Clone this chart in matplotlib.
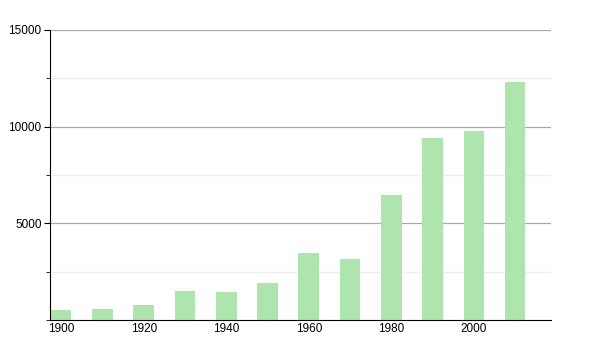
import matplotlib.pyplot as plt
from matplotlib.ticker import MultipleLocator

plt.rcParams['font.family'] = ['Liberation Sans', 'DejaVu Sans']

years = [1900, 1910, 1920, 1930, 1940, 1950, 1960, 1970, 1980, 1990, 2000, 2010]
values = [520, 570, 780, 1500, 1470, 1900, 3450, 3160, 6470, 9430, 9780, 12330]
x_ticks = [1900, 1920, 1940, 1960, 1980, 2000]
y_ticks = [5000, 10000, 15000]

fig = plt.figure(figsize=(6, 3.5), dpi=100)
ax = fig.add_axes([50/600, 30/350, 501/600, 290/350])

ax.bar(years, values, width=5, color='#aee5ae', zorder=2)

ax.set_xlim(1897.3, 2018.7)
ax.set_ylim(0, 15000)
ax.set_xticks(x_ticks)
ax.set_yticks(y_ticks)
ax.yaxis.set_minor_locator(MultipleLocator(2500))

# major grid darker, minor grid very faint
ax.grid(axis='y', which='major', color='#aaaaaa', linewidth=0.9, zorder=1)
ax.grid(axis='y', which='minor', color='#eeeeee', linewidth=0.9, zorder=1)

for s in ['top', 'right']:
    ax.spines[s].set_visible(False)

ax.tick_params(axis='x', length=0, labelsize=8.5, pad=2)
ax.tick_params(axis='y', which='major', length=4, labelsize=8.5, pad=2)
ax.tick_params(axis='y', which='minor', length=3)

fig.savefig('out.png', dpi=100)
